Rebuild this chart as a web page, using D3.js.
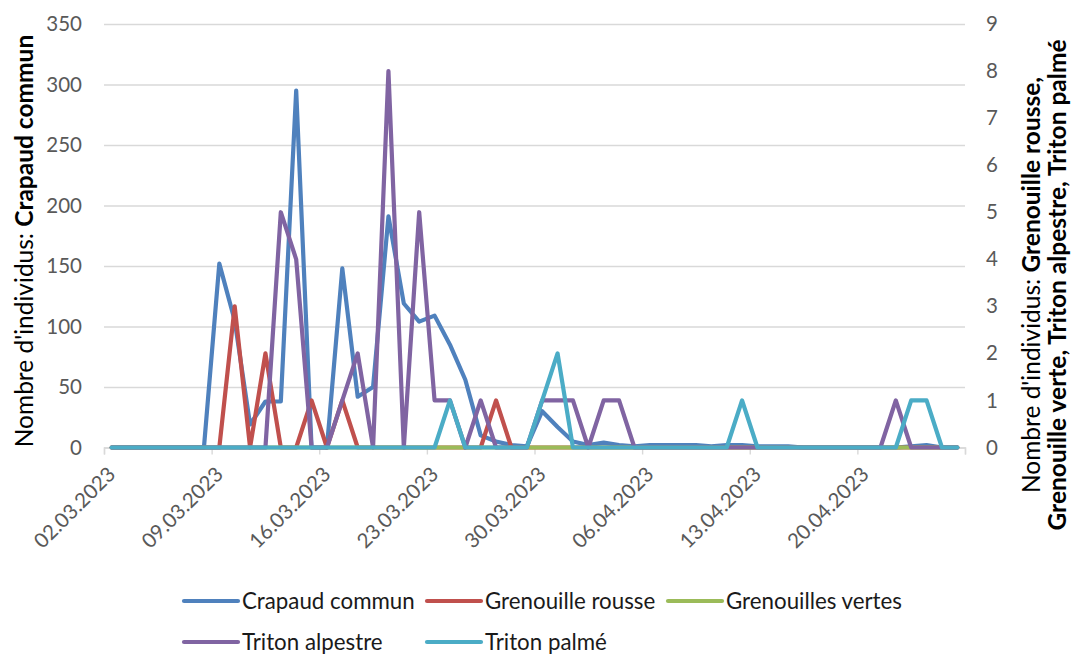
<!DOCTYPE html>
<html>
<head>
<meta charset="utf-8">
<script src="https://cdn.jsdelivr.net/npm/d3@7"></script>
<style>
  html, body { margin: 0; padding: 0; background: #fff; }
  svg { display: block; font-family: Lato, "Open Sans", sans-serif; }
</style>
</head>
<body>
<svg id="chart" width="1073" height="658"></svg>
<script>
// Daily counts, 02.03.2023 – 26.04.2023 (56 days)
const startDate = new Date(2023, 2, 2);
const endDate = new Date(2023, 3, 27);

const crapaudCommun = [
  0, 0, 0, 0, 0, 0, 0, 152, 105, 19,
  38, 38, 295, 0, 0, 148, 42, 50, 191, 119,
  104, 109, 85, 56, 10, 5, 2, 1, 30, 17,
  5, 2, 4, 2, 1, 2, 2, 2, 2, 1,
  2, 2, 1, 1, 1, 0, 0, 0, 0, 0,
  0, 0, 1, 2, 0, 0
];
const grenouilleRousse = [
  0, 0, 0, 0, 0, 0, 0, 0, 3, 0,
  2, 0, 0, 1, 0, 1, 0, 0, 0, 0,
  0, 0, 0, 0, 0, 1, 0, 0, 0, 0,
  0, 0, 0, 0, 0, 0, 0, 0, 0, 0,
  0, 0, 0, 0, 0, 0, 0, 0, 0, 0,
  0, 0, 0, 0, 0, 0
];
const grenouillesVertes = [
  0, 0, 0, 0, 0, 0, 0, 0, 0, 0,
  0, 0, 0, 0, 0, 0, 0, 0, 0, 0,
  0, 0, 0, 0, 0, 0, 0, 0, 0, 0,
  0, 0, 0, 0, 0, 0, 0, 0, 0, 0,
  0, 0, 0, 0, 0, 0, 0, 0, 0, 0,
  0, 0, 0, 0, 0, 0
];
const tritonAlpestre = [
  0, 0, 0, 0, 0, 0, 0, 0, 0, 0,
  0, 5, 4, 0, 0, 1, 2, 0, 8, 0,
  5, 1, 1, 0, 1, 0, 0, 0, 1, 1,
  1, 0, 1, 1, 0, 0, 0, 0, 0, 0,
  0, 0, 0, 0, 0, 0, 0, 0, 0, 0,
  0, 1, 0, 0, 0, 0
];
const tritonPalme = [
  0, 0, 0, 0, 0, 0, 0, 0, 0, 0,
  0, 0, 0, 0, 0, 0, 0, 0, 0, 0,
  0, 0, 1, 0, 0, 0, 0, 0, 1, 2,
  0, 0, 0, 0, 0, 0, 0, 0, 0, 0,
  0, 1, 0, 0, 0, 0, 0, 0, 0, 0,
  0, 0, 1, 1, 0, 0
];

const leftTicks = [0, 50, 100, 150, 200, 250, 300, 350];
const rightTicks = [0, 1, 2, 3, 4, 5, 6, 7, 8, 9];
const dateTickLabels = ["02.03.2023", "09.03.2023", "16.03.2023", "23.03.2023",
                        "30.03.2023", "06.04.2023", "13.04.2023", "20.04.2023"];

const seriesNames = ["Crapaud commun", "Grenouille rousse", "Grenouilles vertes",
                     "Triton alpestre", "Triton palmé"];
const seriesColors = ["#4F81BD", "#C0504D", "#9BBB59", "#8064A2", "#4BACC6"];

// ---- layout ----
const plot = { left: 104, right: 965, top: 24, bottom: 447.5 };
const fmt = d3.timeFormat("%d.%m.%Y");
const days = d3.timeDay.range(startDate, endDate);
const dayKeys = days.map(fmt);

const svg = d3.select("#chart");

const x = d3.scaleBand().domain(dayKeys).range([plot.left, plot.right]).padding(0);
const xEdge = d3.scaleLinear().domain([0, dayKeys.length]).range([plot.left, plot.right]);
const yL = d3.scaleLinear().domain([0, 350]).range([plot.bottom, plot.top]);
const yR = d3.scaleLinear().domain([0, 9]).range([plot.bottom, plot.top]);
const cx = k => x(k) + x.bandwidth() / 2;

// gridlines + left axis labels
const gLeft = svg.append("g")
  .attr("transform", `translate(${plot.left},0)`)
  .call(d3.axisLeft(yL).tickValues(leftTicks).tickSize(-(plot.right - plot.left)).tickPadding(22));
gLeft.select(".domain").remove();
gLeft.selectAll(".tick line").attr("stroke", "#d9d9d9").attr("stroke-width", 1.4);
gLeft.selectAll(".tick text").attr("fill", "#595959").attr("font-size", 20.5)
  .attr("font-family", "Lato, sans-serif");

// right axis labels
const gRight = svg.append("g")
  .attr("transform", `translate(${plot.right},0)`)
  .call(d3.axisRight(yR).tickValues(rightTicks).tickSize(0).tickPadding(21));
gRight.select(".domain").remove();
gRight.selectAll(".tick text").attr("fill", "#595959").attr("font-size", 20.5)
  .attr("font-family", "Lato, sans-serif");

// category axis: week boundary tick marks
const weekEdges = d3.range(0, dayKeys.length + 1, 7);
const gX = svg.append("g")
  .attr("transform", `translate(0,${plot.bottom})`)
  .call(d3.axisBottom(xEdge).tickValues(weekEdges).tickSize(7).tickFormat(""));
gX.select(".domain").attr("stroke", "#d9d9d9").attr("stroke-width", 1.4);
gX.selectAll(".tick line").attr("stroke", "#d9d9d9").attr("stroke-width", 1.4);

// rotated date labels
const gXL = svg.append("g")
  .attr("transform", `translate(0,${plot.bottom})`)
  .call(d3.axisBottom(x).tickValues(dateTickLabels).tickSize(0).tickFormat(d => d));
gXL.select(".domain").remove();
gXL.selectAll(".tick text")
  .attr("fill", "#595959").attr("font-size", 20.5).attr("font-family", "Lato, sans-serif")
  .attr("text-anchor", "end")
  .attr("dy", 0).attr("y", 0)
  .attr("transform", "translate(5,28) rotate(-45)");

// ---- series lines ----
const allSeries = [
  { values: crapaudCommun, y: yL },
  { values: grenouilleRousse, y: yR },
  { values: grenouillesVertes, y: yR },
  { values: tritonAlpestre, y: yR },
  { values: tritonPalme, y: yR }
];
allSeries.forEach((s, i) => {
  const line = d3.line().x((v, j) => cx(dayKeys[j])).y(v => s.y(v));
  svg.append("path")
    .datum(s.values)
    .attr("d", line)
    .attr("fill", "none")
    .attr("stroke", seriesColors[i])
    .attr("stroke-width", 4.2)
    .attr("stroke-linejoin", "round")
    .attr("stroke-linecap", "round");
});

// ---- axis titles ----
const leftTitle = svg.append("text")
  .attr("transform", "translate(33,241) rotate(-90)")
  .attr("text-anchor", "middle")
  .attr("font-size", 24.5).attr("fill", "#000");
leftTitle.append("tspan").text("Nombre d'individus: ");
leftTitle.append("tspan").attr("font-weight", "bold").text("Crapaud commun");

const rightTitle1 = svg.append("text")
  .attr("transform", "translate(1040,285) rotate(-90)")
  .attr("text-anchor", "middle")
  .attr("font-size", 24.5).attr("fill", "#000");
rightTitle1.append("tspan").text("Nombre d'individus: ");
rightTitle1.append("tspan").attr("font-weight", "bold").text("Grenouille rousse,");

svg.append("text")
  .attr("transform", "translate(1066,285) rotate(-90)")
  .attr("text-anchor", "middle")
  .attr("font-size", 24.5).attr("font-weight", "bold").attr("fill", "#000")
  .text("Grenouille verte, Triton alpestre, Triton palmé");

// ---- legend ----
const legendPos = [
  { x: 184, y: 601 }, { x: 427, y: 601 }, { x: 668, y: 601 },
  { x: 184, y: 642 }, { x: 427, y: 642 }
];
seriesNames.forEach((name, i) => {
  const g = svg.append("g").attr("transform", `translate(${legendPos[i].x},${legendPos[i].y})`);
  g.append("line").attr("x1", 0).attr("x2", 54).attr("y1", 0).attr("y2", 0)
    .attr("stroke", seriesColors[i]).attr("stroke-width", 4.2).attr("stroke-linecap", "round");
  g.append("text").attr("x", 58).attr("y", 8)
    .attr("font-size", 22.3).attr("fill", "#1a1a1a").text(name);
});
</script>
</body>
</html>
